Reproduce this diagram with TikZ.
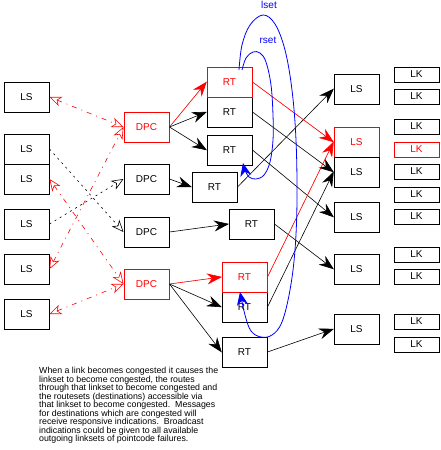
\documentclass[tikz,border=0pt]{standalone}
\usepackage{fontspec}
\setmainfont{Liberation Sans}
\usetikzlibrary{arrows.meta}
\begin{document}
\begin{tikzpicture}[x=1pt,y=-1pt,
  box/.style={draw=black, line width=1pt, minimum width=45pt, minimum height=30pt, inner sep=0pt, font=\fontsize{10}{12}\selectfont},
  rbox/.style={box, draw=red, text=red},
  lkbox/.style={box, minimum height=15pt},
  rlkbox/.style={lkbox, draw=red, text=red},
  arr/.style={-{Stealth[length=15pt,width=11pt,inset=5pt]}, line width=0.6pt, shorten >=-0.5pt},
  rarr/.style={arr, draw=red, fill=red},
  rdash/.style={{Stealth[open,length=12pt,width=10pt,inset=3.5pt]}-{Stealth[open,length=12pt,width=10pt,inset=3.5pt]}, red, line width=0.6pt, dash pattern=on 5pt off 5pt on 1pt off 5pt},
  kdash/.style={-{Stealth[open,length=12pt,width=10pt,inset=3.5pt]}, black, line width=0.6pt, dash pattern=on 2pt off 4pt},
  bluearr/.style={-{Stealth[length=13pt,width=11pt,inset=4pt]}, blue, line width=0.8pt},
  lbl/.style={blue, font=\fontsize{10}{12}\selectfont, inner sep=0pt}
]
\useasboundingbox (0,0) rectangle (440,450);

% left linksets
\node[box] (LS1) at (26.5,97) {LS};
\node[box] (LS2) at (26.5,149) {LS};
\node[box] (LS3) at (26.5,179) {LS};
\node[box] (LS4) at (26.5,224) {LS};
\node[box] (LS5) at (26.5,269) {LS};
\node[box] (LS6) at (26.5,314) {LS};

% DPCs
\node[rbox] (DPC1) at (146.5,127) {DPC};
\node[box]  (DPC2) at (146.5,179) {DPC};
\node[box]  (DPC3) at (146.5,232) {DPC};
\node[rbox] (DPC4) at (146.5,284) {DPC};

% RTs
\node[box]  (RT2) at (229.5,112) {RT};
\node[rbox] (RT1) at (229.5,82) {RT};
\node[box]  (RT3) at (229.5,150) {RT};
\node[box]  (RT4) at (214.5,187) {RT};
\node[box]  (RT5) at (251.5,224) {RT};
\node[box]  (RT7) at (244.5,307) {RT};
\node[rbox] (RT6) at (244.5,277) {RT};
\node[box]  (RT8) at (244.5,352) {RT};

% right linksets
\node[rbox] (R2) at (356.5,142) {LS};
\node[box]  (R1) at (356.5,89) {LS};
\node[box]  (R3) at (356.5,172) {LS};
\node[box]  (R4) at (356.5,217) {LS};
\node[box]  (R5) at (356.5,269) {LS};
\node[box]  (R6) at (356.5,329) {LS};

% links
\node[lkbox]  (K1)  at (416.5,74.5)  {LK};
\node[lkbox]  (K2)  at (416.5,96.5)  {LK};
\node[lkbox]  (K3)  at (416.5,126.5) {LK};
\node[rlkbox] (K4)  at (416.5,149.5) {LK};
\node[lkbox]  (K5)  at (416.5,171.5) {LK};
\node[lkbox]  (K6)  at (416.5,194.5) {LK};
\node[lkbox]  (K7)  at (416.5,216.5) {LK};
\node[lkbox]  (K8)  at (416.5,254.5) {LK};
\node[lkbox]  (K9)  at (416.5,276.5) {LK};
\node[lkbox]  (K10) at (416.5,321.5) {LK};
\node[lkbox]  (K11) at (416.5,344.5) {LK};

% dashed links LS - DPC
\draw[rdash] (LS1.east) -- (DPC1.west);
\draw[rdash] (LS5.east) -- (DPC1.west);
\draw[rdash] (LS3.east) -- (DPC4.west);
\draw[rdash] (LS6.east) -- (DPC4.west);
\draw[kdash] (LS2.east) -- (DPC3.west);
\draw[kdash] (LS4.east) -- (DPC2.west);

% DPC -> RT
\draw[rarr] (DPC1.east) -- (RT1.west);
\draw[arr] (DPC1.east) -- (RT2.west);
\draw[arr] (DPC1.east) -- (RT3.west);
\draw[arr] (DPC2.east) -- (RT4.west);
\draw[arr] (DPC3.east) -- (RT5.west);
\draw[rarr] (DPC4.east) -- (RT6.west);
\draw[arr] (DPC4.east) -- (RT7.west);
\draw[arr] (DPC4.east) -- (RT8.west);

% RT -> LS
\draw[arr] (RT2.east) -- (R3.west);
\draw[arr] (RT3.east) -- (R4.west);
\draw[arr] (RT4.east) -- (R1.west);
\draw[arr] (RT5.east) -- (R5.west);
\draw[arr] (RT7.east) -- (R3.west);
\draw[arr] (RT8.east) -- (R6.west);
\draw[rarr] (RT1.east) -- (R2.west);
\draw[rarr] (RT6.east) -- (R2.west);

% lset / rset loops
\draw[bluearr] plot[smooth, tension=0.6] coordinates {(239,70) (242,45) (250,25) (263,15) (275,24) (285,50) (292,90) (296,140) (297,200) (295,250) (290,290) (282,322) (272,335) (261,337) (251,331) (245,315) (240,292)};
\draw[bluearr] plot[smooth, tension=0.6] coordinates {(242,70) (246,58) (253,52) (260,53) (266,62) (271,85) (273,115) (273,140) (270,162) (264,175) (256,179) (249,177) (245,170) (243,163)};
\node[lbl] (lset) at (269,5) {lset};
\node[lbl] (rset) at (268,40) {rset};

% note
\node[anchor=north west, align=left, inner sep=0pt, font=\fontsize{8.8}{8.5}\selectfont] (note) at (39,367) {When a link becomes congested it causes the\\
linkset to become congested, the routes\\
through that linkset to become congested and\\
the routesets (destinations) accessible via\\
that linkset to become congested.\ \ Messages\\
for destinations which are congested will\\
receive responsive indications.\ \ Broadcast\\
indications could be given to all available\\
outgoing linksets of pointcode failures.};
\end{tikzpicture}
\end{document}
